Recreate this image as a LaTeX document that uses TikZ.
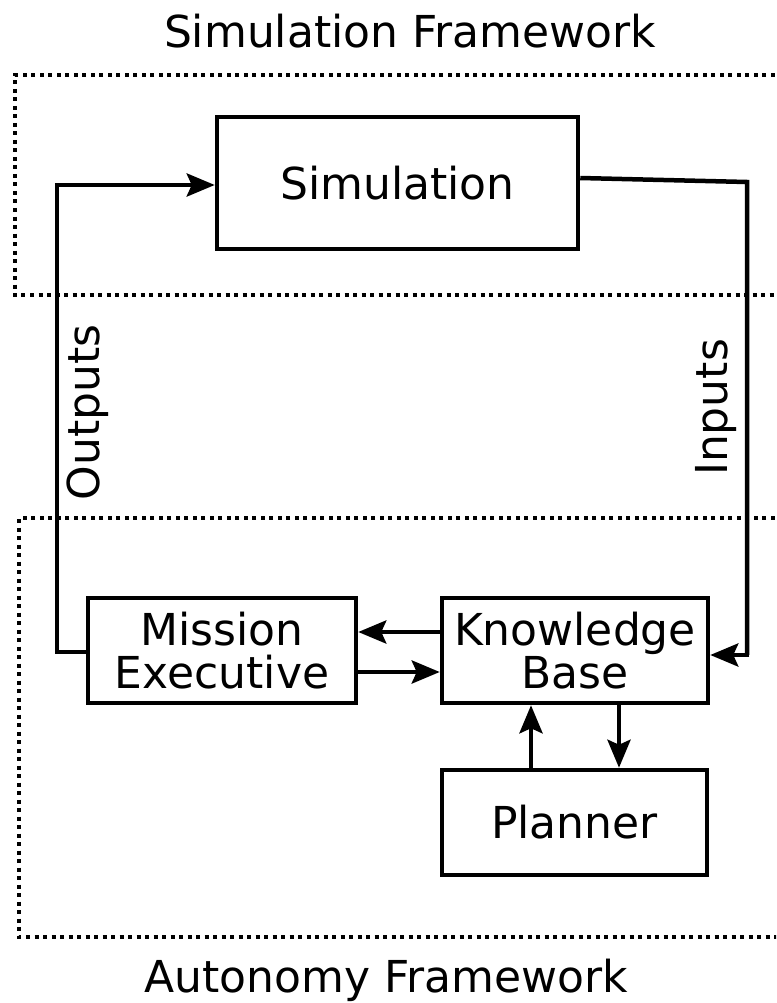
\documentclass[tikz,border=0pt]{standalone}
\usepackage{fontspec}
\setmainfont{DejaVu Sans}
\usetikzlibrary{arrows.meta}
\tikzset{
  blk/.style={draw, line width=4.5pt, align=center, inner sep=0pt, font=\fontsize{44}{43}\selectfont},
  lbl/.style={font=\fontsize{44}{43}\selectfont, inner sep=0pt},
  frame/.style={line width=4pt, dash pattern=on 4pt off 4.5pt},
  conn/.style={line width=4.5pt, -{Stealth[length=28pt,width=23pt,inset=5pt]}},
  wire/.style={line width=4.5pt},
}
\begin{document}
\begin{tikzpicture}[x=1pt,y=-1pt]
\clip (0,0) rectangle (776,1003);
\fill[white] (0,0) rectangle (776,1003);
% frames
\draw[frame] (800,75) -- (15,75) -- (15,295) -- (800,295);
\draw[frame] (800,518) -- (19,518) -- (19,937) -- (800,937);
\node[lbl, anchor=base] (simfw) at (410,48) {Simulation Framework};
\node[lbl, anchor=base] (autfw) at (386,992) {Autonomy Framework};
% blocks
\node[blk, minimum width=361pt, minimum height=132pt] (sim) at (397.5,183) {Simulation};
\node[blk, minimum width=268pt, minimum height=105pt] (me) at (222,650.5) {Mission\\Executive};
\node[blk, minimum width=266pt, minimum height=105pt] (kb) at (575,650.5) {Knowledge\\Base};
\node[blk, minimum width=265pt, minimum height=105pt] (pl) at (574.5,822.5) {Planner};
% outputs loop
\coordinate (o1) at (57,652);
\coordinate (o2) at (57,185);
\draw[wire, line join=miter] ([yshift=-1.5pt]me.west) -- (o1) -- (o2);
\draw[conn] ([xshift=-2.25pt]o2) -- (o2 -| sim.west);
\node[lbl, rotate=90, anchor=base] (outl) at (99,412.5) {Outputs};
% inputs loop
\coordinate (i1) at (747,182);
\coordinate (i2) at (747,655);
\draw[wire, line join=miter] ([yshift=5pt]sim.east) -- (i1) -- (i2);
\draw[conn] ([xshift=2.25pt]i2) -- (i2 -| kb.east);
\node[lbl, rotate=90, anchor=base] (inl) at (727,407.5) {Inputs};
% ME <-> KB
\draw[conn] ([yshift=18.5pt]kb.west) -- ([yshift=18.5pt]me.east);
\draw[conn] ([yshift=-21.5pt]me.east) -- ([yshift=-21.5pt]kb.west);
% KB <-> Planner
\draw[conn] ([xshift=-43.5pt]pl.north) -- ([xshift=-43.5pt]pl.north |- kb.south);
\draw[conn] ([xshift=44pt]kb.south) -- ([xshift=44pt]kb.south |- pl.north);
\end{tikzpicture}
\end{document}
